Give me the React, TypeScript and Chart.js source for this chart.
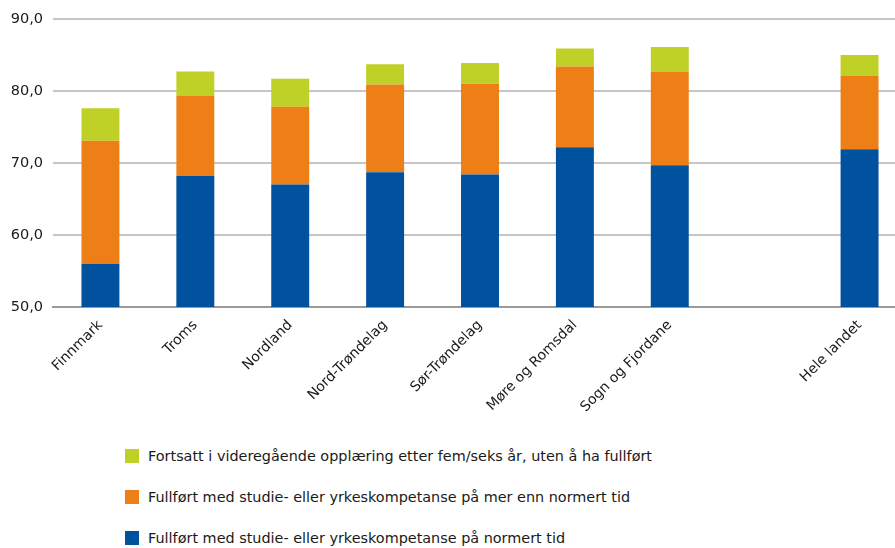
import React, { useEffect, useRef } from "react";
import { Chart, registerables } from "chart.js";

Chart.register(...registerables);

const categories = [
  "Finnmark",
  "Troms",
  "Nordland",
  "Nord-Trøndelag",
  "Sør-Trøndelag",
  "Møre og Romsdal",
  "Sogn og Fjordane",
  "",
  "Hele landet",
];
const normertTid = [56.0, 68.2, 67.0, 68.7, 68.4, 72.2, 69.7, null, 71.9];
const merEnnNormert = [17.1, 11.1, 10.8, 12.2, 12.6, 11.2, 13.0, null, 10.2];
const fortsatt = [4.5, 3.4, 3.9, 2.8, 2.9, 2.5, 3.4, null, 2.9];

const seriesLabels = [
  "Fullført med studie- eller yrkeskompetanse på normert tid",
  "Fullført med studie- eller yrkeskompetanse på mer enn normert tid",
  "Fortsatt i videregående opplæring etter fem/seks år, uten å ha fullført",
];
const seriesColors = ["#00519E", "#EE7F16", "#BFD026"];

const yMin = 50;
const yMax = 90;
const yStep = 10;

const FONT = "'DejaVu Sans', sans-serif";

export default function App() {
  const canvasRef = useRef<HTMLCanvasElement | null>(null);

  useEffect(() => {
    if (!canvasRef.current) return;
    const chart = new Chart(canvasRef.current, {
      type: "bar",
      data: {
        labels: categories,
        datasets: [
          { label: seriesLabels[0], data: normertTid, backgroundColor: seriesColors[0] },
          { label: seriesLabels[1], data: merEnnNormert, backgroundColor: seriesColors[1] },
          { label: seriesLabels[2], data: fortsatt, backgroundColor: seriesColors[2] },
        ],
      },
      options: {
        responsive: false,
        animation: false,
        maintainAspectRatio: false,
        layout: { padding: { left: 10, top: 19, right: 0, bottom: 0 } },
        datasets: { bar: { barPercentage: 0.4, categoryPercentage: 1.0 } },
        plugins: {
          legend: { display: false },
          tooltip: { enabled: false },
        },
        scales: {
          x: {
            stacked: true,
            grid: { display: false, drawTicks: false },
            border: { display: true, color: "#9a9a9a", width: 2 },
            ticks: {
              minRotation: 45,
              maxRotation: 45,
              autoSkip: false,
              padding: 10,
              color: "#1a1a1a",
              font: { family: FONT, size: 14 },
            },
            afterFit: (scale: any) => {
              scale.height = 123;
            },
          },
          y: {
            stacked: true,
            min: yMin,
            max: yMax,
            border: { display: false },
            grid: {
              drawTicks: false,
              color: (ctx: any) => (ctx.tick && ctx.tick.value === yMin ? "#9a9a9a" : "#c6c6c6"),
              lineWidth: 2,
            },
            ticks: {
              stepSize: yStep,
              padding: 10,
              color: "#1a1a1a",
              font: { family: FONT, size: 14.5 },
              callback: (v: any) => Number(v).toFixed(1).replace(".", ","),
            },
            afterFit: (scale: any) => {
              scale.width = 43;
            },
          },
        },
      },
    });
    return () => chart.destroy();
  }, []);

  const legendOrder = [2, 1, 0];

  return (
    <div
      style={{
        position: "fixed",
        left: 0,
        top: 0,
        width: 895,
        height: 548,
        overflow: "hidden",
        background: "#ffffff",
      }}
    >
      <canvas
        ref={canvasRef}
        width={907}
        height={430}
        style={{ position: "absolute", left: 0, top: 0, width: 907, height: 430 }}
      />
      {legendOrder.map((idx, row) => (
        <div
          key={idx}
          style={{
            position: "absolute",
            left: 125,
            top: 456 + row * 41 - 10,
            height: 20,
            display: "flex",
            alignItems: "center",
            fontFamily: FONT,
            fontSize: 14.4,
            color: "#1a1a1a",
            whiteSpace: "nowrap",
          }}
        >
          <span
            style={{
              display: "inline-block",
              width: 14,
              height: 14,
              background: seriesColors[idx],
              marginRight: 9,
            }}
          />
          <span>{seriesLabels[idx]}</span>
        </div>
      ))}
    </div>
  );
}
